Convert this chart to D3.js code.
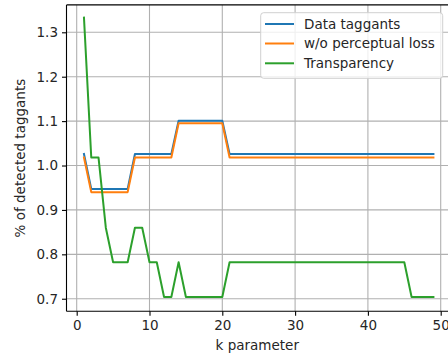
<!DOCTYPE html>
<html><head><meta charset="utf-8">
<script src="https://cdn.jsdelivr.net/npm/d3@7"></script>
<style>
html,body{margin:0;padding:0;background:#fff;}
svg{display:block;font-family:"DejaVu Sans",sans-serif;}
</style></head>
<body><svg id="c" width="448" height="358"></svg>
<script>
const kValues = [1,2,3,4,5,6,7,8,9,10,11,12,13,14,15,16,17,18,19,20,21,22,23,24,25,26,27,28,29,30,31,32,33,34,35,36,37,38,39,40,41,42,43,44,45,46,47,48,49];
const dataTaggants = [1.026,0.947,0.947,0.947,0.947,0.947,0.947,1.026,1.026,1.026,1.026,1.026,1.026,1.101,1.101,1.101,1.101,1.101,1.101,1.101,1.026,1.026,1.026,1.026,1.026,1.026,1.026,1.026,1.026,1.026,1.026,1.026,1.026,1.026,1.026,1.026,1.026,1.026,1.026,1.026,1.026,1.026,1.026,1.026,1.026,1.026,1.026,1.026,1.026];
const woPerceptual = [1.018,0.940,0.940,0.940,0.940,0.940,0.940,1.018,1.018,1.018,1.018,1.018,1.018,1.095,1.095,1.095,1.095,1.095,1.095,1.095,1.018,1.018,1.018,1.018,1.018,1.018,1.018,1.018,1.018,1.018,1.018,1.018,1.018,1.018,1.018,1.018,1.018,1.018,1.018,1.018,1.018,1.018,1.018,1.018,1.018,1.018,1.018,1.018,1.018];
const transparency = [1.333,1.018,1.018,0.860,0.782,0.782,0.782,0.860,0.860,0.782,0.782,0.704,0.704,0.782,0.704,0.704,0.704,0.704,0.704,0.704,0.782,0.782,0.782,0.782,0.782,0.782,0.782,0.782,0.782,0.782,0.782,0.782,0.782,0.782,0.782,0.782,0.782,0.782,0.782,0.782,0.782,0.782,0.782,0.782,0.782,0.704,0.704,0.704,0.704];
const seriesNames = ["Data taggants","w/o perceptual loss","Transparency"];
const seriesColors = ["#1f77b4","#ff7f0e","#2ca02c"];
const xTicks = [0,10,20,30,40,50];
const yTicks = [0.7,0.8,0.9,1.0,1.1,1.2,1.3];
const xLabel = "k parameter";
const yLabel = "% of detected taggants";

const svg = d3.select("#c");
const L = 66.5, R = 450.9, T = 4.9, B = 311.3;
const x = d3.scaleLinear().domain([-1.4, 51.4]).range([L, R]);
const y = d3.scaleLinear().domain([0.6717, 1.3617]).range([B, T]);
const fs = 13.5;

// grid
const g = svg.append("g");
g.selectAll(".gx").data(xTicks).join("line")
  .attr("x1", d => x(d)).attr("x2", d => x(d)).attr("y1", T).attr("y2", B)
  .attr("stroke", "#b0b0b0").attr("stroke-width", 1.1);
g.selectAll(".gy").data(yTicks).join("line")
  .attr("y1", d => y(d)).attr("y2", d => y(d)).attr("x1", L).attr("x2", R)
  .attr("stroke", "#b0b0b0").attr("stroke-width", 1.1);

// lines
const all = [dataTaggants, woPerceptual, transparency];
const line = d3.line().x((d, i) => x(kValues[i])).y(d => y(d));
all.forEach((s, i) => {
  svg.append("path").datum(s).attr("d", line)
    .attr("fill", "none").attr("stroke", seriesColors[i])
    .attr("stroke-width", 2).attr("stroke-linejoin", "round").attr("stroke-linecap", "square");
});

// axes
const xAxis = d3.axisBottom(x).tickValues(xTicks).tickSize(4.5).tickPadding(5).tickFormat(d3.format("d"));
const gx = svg.append("g").attr("transform", `translate(0,${B})`).call(xAxis);
const yAxis = d3.axisLeft(y).tickValues(yTicks).tickSize(4.5).tickPadding(4).tickFormat(d3.format(".1f"));
const gy = svg.append("g").attr("transform", `translate(${L},0)`).call(yAxis);
[gx, gy].forEach(a => {
  a.select(".domain").remove();
  a.selectAll("line").attr("stroke", "#000").attr("stroke-width", 1.1);
  a.selectAll("text").attr("fill", "#262626").style("font-size", fs + "px").style("font-family", "DejaVu Sans");
});
// spines
svg.append("line").attr("x1", L).attr("x2", L).attr("y1", T).attr("y2", B).attr("stroke", "#000").attr("stroke-width", 1.1);
svg.append("line").attr("x1", L).attr("x2", R).attr("y1", B).attr("y2", B).attr("stroke", "#000").attr("stroke-width", 1.1);
svg.append("line").attr("x1", L).attr("x2", R).attr("y1", T).attr("y2", T).attr("stroke", "#000").attr("stroke-width", 1.1);
svg.append("line").attr("x1", R).attr("x2", R).attr("y1", T).attr("y2", B).attr("stroke", "#000").attr("stroke-width", 1.1);

// labels
svg.append("text").attr("x", 257.3).attr("y", 350).attr("text-anchor", "middle")
  .style("font-size", fs + "px").attr("fill", "#262626").text(xLabel);
svg.append("text").attr("transform", `translate(20,${(T + B) / 2}) rotate(-90)`)
  .attr("dy", "0.35em").attr("text-anchor", "middle")
  .style("font-size", fs + "px").attr("fill", "#262626").text(yLabel);

// legend
const lg = svg.append("g");
lg.append("rect").attr("x", 260.7).attr("y", 12.7).attr("width", 182).attr("height", 65.6)
  .attr("rx", 3).attr("fill", "#fff").attr("fill-opacity", 0.8).attr("stroke", "#d0d0d0").attr("stroke-width", 1);
const rows = [24, 43.5, 63.3];
seriesNames.forEach((n, i) => {
  lg.append("line").attr("x1", 265).attr("x2", 294).attr("y1", rows[i]).attr("y2", rows[i])
    .attr("stroke", seriesColors[i]).attr("stroke-width", 2);
  lg.append("text").attr("x", 304).attr("y", rows[i]).attr("dy", "0.35em")
    .style("font-size", fs + "px").attr("fill", "#262626").text(n);
});
</script></body></html>
